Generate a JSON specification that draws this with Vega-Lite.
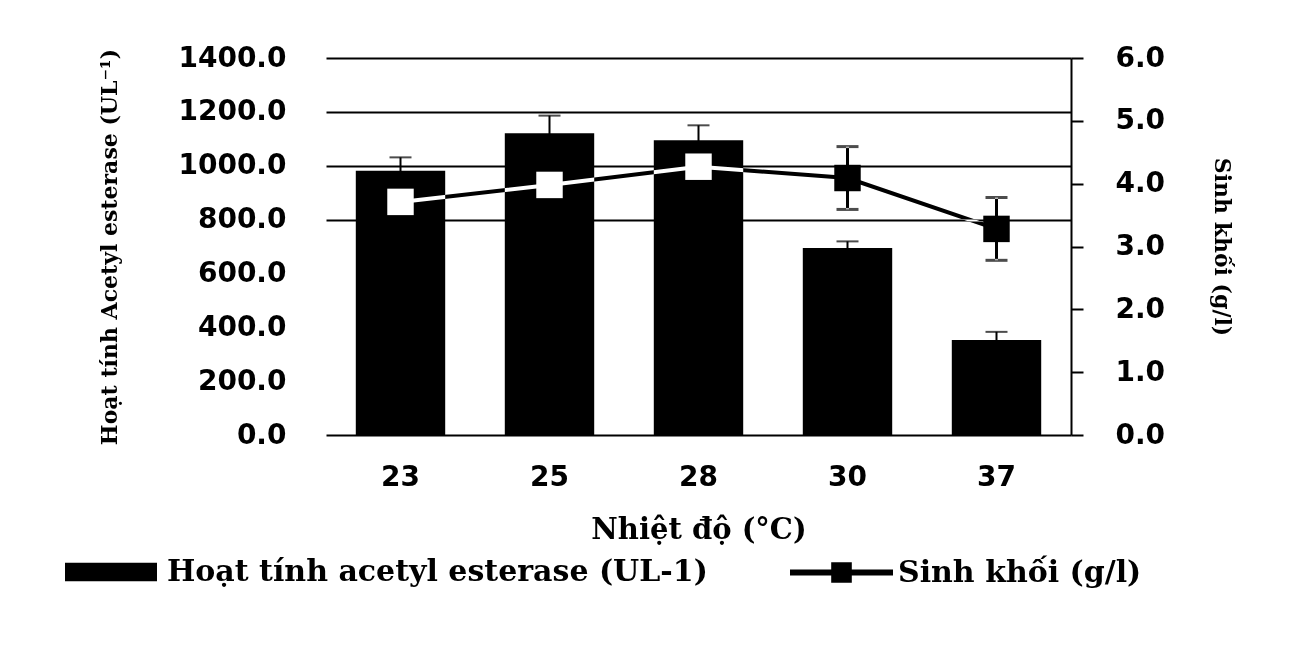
{
  "$schema": "https://vega.github.io/schema/vega-lite/v6.json",
  "autosize": {"type": "none"},
  "width": 745,
  "height": 377,
  "padding": {"left": 326, "top": 58, "right": 238, "bottom": 215},
  "background": "white",
  "config": {
    "view": {"stroke": null},
    "axis": {
      "labelColor": "black",
      "titleColor": "black",
      "labelFont": "DejaVu Sans",
      "labelFontWeight": "bold",
      "labelFontSize": 28,
      "titleFont": "DejaVu Serif",
      "titleFontWeight": "bold",
      "titleFontSize": 22
    }
  },
  "data": {
    "values": [
      {"temp": "23", "activity": 981, "act_err": 50, "biomass": 3.71, "bio_err": 0.1},
      {"temp": "25", "activity": 1121, "act_err": 65, "biomass": 3.98, "bio_err": 0.1},
      {"temp": "28", "activity": 1095, "act_err": 55, "biomass": 4.27, "bio_err": 0.1},
      {"temp": "30", "activity": 694, "act_err": 25, "biomass": 4.09, "bio_err": 0.5},
      {"temp": "37", "activity": 353, "act_err": 30, "biomass": 3.28, "bio_err": 0.5}
    ]
  },
  "encoding": {
    "x": {
      "field": "temp",
      "type": "ordinal",
      "sort": null,
      "scale": {"paddingInner": 0.4, "paddingOuter": 0.2},
      "axis": {
        "title": "Nhiệt độ (°C)",
        "titleFontSize": 29,
        "labelAngle": 0,
        "ticks": false,
        "domain": true,
        "domainColor": "black",
        "domainWidth": 2,
        "labelPadding": 28,
        "titlePadding": 24
      }
    }
  },
  "layer": [
    {
      "encoding": {
        "y": {
          "field": "activity",
          "type": "quantitative",
          "scale": {"domain": [0, 1400], "nice": false},
          "axis": {
            "orient": "left",
            "title": "Hoạt tính Acetyl esterase (UL⁻¹)",
            "values": [0, 200, 400, 600, 800, 1000, 1200, 1400],
            "format": ".1f",
            "grid": true,
            "gridColor": "black",
            "gridWidth": 2,
            "gridOpacity": {"condition": {"test": "datum.value >= 800", "value": 1}, "value": 0},
            "domain": false,
            "ticks": false,
            "labelPadding": 40,
            "titlePadding": 56
          }
        }
      },
      "layer": [
        {
          "mark": {"type": "bar"},
          "encoding": {
            "color": {
              "datum": "Hoạt tính acetyl esterase (UL-1)",
              "scale": {"range": ["black"]},
              "legend": {
                "title": null,
                "orient": "none",
                "legendX": -261,
                "legendY": 468,
                "padding": 0,
                "symbolType": "M-1,-0.2H1V0.2H-1Z",
                "symbolSize": 8464,
                "symbolStrokeWidth": 0,
                "labelFont": "DejaVu Serif",
                "labelFontWeight": "bold",
                "labelFontSize": 30,
                "labelColor": "black",
                "labelLimit": 1000,
                "labelOffset": 10
              }
            }
          }
        },
        {
          "mark": {"type": "errorbar", "color": "black", "thickness": 2, "ticks": {"size": 22, "thickness": 2}},
          "encoding": {
            "y": {"field": "activity", "type": "quantitative"},
            "yError": {"field": "act_err"}
          }
        }
      ]
    },
    {
      "encoding": {
        "y": {
          "field": "biomass",
          "type": "quantitative",
          "scale": {"domain": [0, 6], "nice": false},
          "axis": {
            "orient": "right",
            "title": "Sinh khối (g/l)",
            "values": [0, 1, 2, 3, 4, 5, 6],
            "format": ".1f",
            "grid": false,
            "domain": true,
            "domainColor": "black",
            "domainWidth": 2,
            "ticks": true,
            "tickColor": "black",
            "tickSize": 12,
            "tickWidth": 2,
            "labelPadding": 32,
            "titlePadding": 45
          }
        }
      },
      "layer": [
        {
          "mark": {"type": "line", "strokeWidth": 4, "blend": "difference", "color": "white"}
        },
        {
          "mark": {
            "type": "errorbar",
            "color": "white",
            "thickness": 3,
            "rule": {"blend": "difference"},
            "ticks": {"size": 22, "thickness": 3, "blend": "difference"}
          },
          "encoding": {
            "y": {"field": "biomass", "type": "quantitative"},
            "yError": {"field": "bio_err"}
          }
        },
        {
          "mark": {"type": "point", "shape": "square", "filled": true, "size": 700, "opacity": 1, "strokeWidth": 0},
          "encoding": {
            "fill": {
              "condition": {"test": "datum.biomass * 1400 / 6 < datum.activity", "value": "white"},
              "value": "black"
            }
          }
        },
        {
          "mark": {"type": "point", "filled": true, "size": 0, "color": "black", "opacity": 1},
          "encoding": {
            "shape": {
              "datum": "Sinh khối (g/l)",
              "scale": {"range": ["M-1,-0.06H1V0.06H-1ZM-0.2,-0.2H0.2V0.2H-0.2Z"]},
              "legend": {
                "title": null,
                "orient": "none",
                "legendX": 463,
                "legendY": 462,
                "padding": 0,
                "symbolSize": 10609,
                "labelFont": "DejaVu Serif",
                "labelFontWeight": "bold",
                "labelFontSize": 30,
                "labelColor": "black",
                "labelLimit": 1000,
                "labelOffset": 4
              }
            }
          }
        }
      ]
    }
  ],
  "resolve": {"scale": {"y": "independent", "color": "independent", "shape": "independent"}}
}
